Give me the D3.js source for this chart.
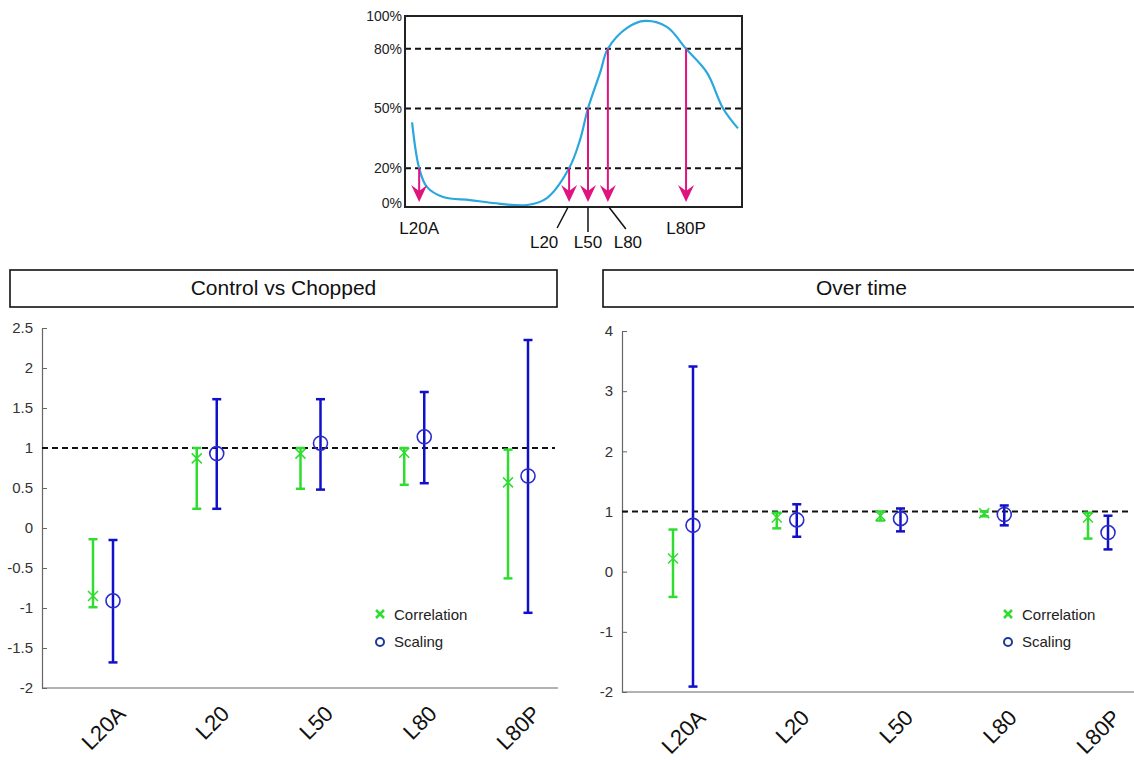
<!DOCTYPE html>
<html>
<head>
<meta charset="utf-8">
<script src="https://cdn.jsdelivr.net/npm/d3@7"></script>
<style>
  body { margin: 0; background: #fff; }
  text { font-family: Arial, "Liberation Sans", sans-serif; }
</style>
</head>
<body>
<svg id="fig" width="1134" height="760"></svg>
<script>
// ---- data ----
var categories = ["L20A", "L20", "L50", "L80", "L80P"];

// Control vs Chopped
var chopCorrMean  = [-0.85, 0.87, 0.93, 0.94, 0.57];
var chopCorrLow   = [-0.99, 0.24, 0.49, 0.54, -0.63];
var chopCorrHigh  = [-0.14, 1.00, 1.00, 1.00, 0.98];
var chopScaleMean = [-0.91, 0.93, 1.06, 1.14, 0.65];
var chopScaleLow  = [-1.68, 0.24, 0.48, 0.56, -1.06];
var chopScaleHigh = [-0.15, 1.61, 1.61, 1.70, 2.35];

// Over time
var timeCorrMean  = [0.22, 0.90, 0.93, 0.97, 0.90];
var timeCorrLow   = [-0.42, 0.72, 0.85, 0.92, 0.55];
var timeCorrHigh  = [0.70, 0.98, 1.00, 1.00, 0.98];
var timeScaleMean = [0.77, 0.86, 0.88, 0.95, 0.65];
var timeScaleLow  = [-1.91, 0.58, 0.67, 0.77, 0.37];
var timeScaleHigh = [3.41, 1.12, 1.05, 1.10, 0.93];

var chopTicks = [-2, -1.5, -1, -0.5, 0, 0.5, 1, 1.5, 2, 2.5];
var timeTicks = [-2, -1, 0, 1, 2, 3, 4];

// schematic profile (x in arbitrary units 0-100, y in %)
var profileX = [2.1, 4.2, 6.5, 11.3, 19.3, 26.1, 36.2, 42.1, 48.7, 51.9, 54.3, 57.9, 60.2, 65.9, 71.2, 77.7, 83.4, 89.6, 94.4, 98.8];
var profileY = [43, 20, 10.6, 5.5, 4.0, 2.5, 1.5, 5.0, 20, 34, 50, 68, 80, 90.5, 94, 91, 80, 68, 50, 40];
var levelTicks = [0, 20, 50, 80, 100];
var levelLines = [20, 50, 80];
var thresholdX = [4.2, 48.7, 54.3, 60.2, 83.4];
var thresholdLevel = [20, 20, 50, 80, 80];

var green = "#2fdc2f", blue = "#1010c8", circleBlue = "#2b2bcc";
var magenta = "#e0147f", curveBlue = "#2aa7dd";

var svg = d3.select("#fig");

// ---- inset schematic ----
var ix = d3.scaleLinear().domain([0, 100]).range([405, 742]);
var iy = d3.scaleLinear().domain([0, 100]).range([208, 9]);
var inset = svg.append("g");

inset.selectAll("line.level").data(levelLines).enter().append("line")
  .attr("x1", 405).attr("x2", 742)
  .attr("y1", d => iy(d)).attr("y2", d => iy(d))
  .attr("stroke", "#111").attr("stroke-width", 2).attr("stroke-dasharray", "6,4");

inset.selectAll("text.lvl").data(levelTicks).enter().append("text")
  .attr("x", 402)
  .attr("y", d => Math.max(16, Math.min(203, iy(d))))
  .attr("dy", "0.35em")
  .attr("text-anchor", "end")
  .style("font-size", "14px").attr("fill", "#222")
  .text(d => d + "%");

var profile = profileX.map((x, i) => [x, profileY[i]]);
inset.append("path")
  .datum(profile)
  .attr("d", d3.line().x(d => ix(d[0])).y(d => iy(d[1])).curve(d3.curveCatmullRom))
  .attr("fill", "none").attr("stroke", curveBlue).attr("stroke-width", 2.2);

var tipY = iy(3);
thresholdX.forEach(function (tx, i) {
  var x = ix(tx);
  inset.append("line")
    .attr("x1", x).attr("x2", x)
    .attr("y1", iy(thresholdLevel[i])).attr("y2", tipY - 8)
    .attr("stroke", magenta).attr("stroke-width", 2);
  inset.append("path")
    .attr("d", "M" + x + "," + tipY + "L" + (x - 8) + "," + (tipY - 17) +
               "L" + x + "," + (tipY - 11) + "L" + (x + 8) + "," + (tipY - 17) + "Z")
    .attr("fill", magenta);
});

inset.append("rect")
  .attr("x", 405).attr("y", 16).attr("width", 337).attr("height", 191)
  .attr("fill", "none").attr("stroke", "#222").attr("stroke-width", 2);

// labels under the schematic
var labelDx = [0, -25, 0, 20, 0];
var labelY  = [234, 248, 248, 248, 234];
categories.forEach(function (c, i) {
  var x = ix(thresholdX[i]);
  inset.append("text")
    .attr("x", x + labelDx[i]).attr("y", labelY[i])
    .attr("text-anchor", "middle")
    .style("font-size", "17px").attr("fill", "#111")
    .text(c);
});
// leader lines for the middle labels
var leaders = [[1, -1, -12, 228], [2, 0, 0, 232], [3, 1, 18, 229]];
leaders.forEach(function (l) {
  var x = ix(thresholdX[l[0]]);
  inset.append("line")
    .attr("x1", x + l[1]).attr("y1", 207)
    .attr("x2", x + l[2]).attr("y2", l[3])
    .attr("stroke", "#111").attr("stroke-width", 1.5);
});

// ---- panels ----
function drawPanel(o) {
  var g = svg.append("g");
  var y = d3.scaleLinear().domain(o.domain).range([o.yBot, o.yTop]);
  var x = d3.scalePoint().domain(categories).range([o.ax + 61, o.ax + 476]);

  // title box
  g.append("rect")
    .attr("x", o.boxX).attr("y", 270).attr("width", o.boxW).attr("height", 37)
    .attr("fill", "#fff").attr("stroke", "#111").attr("stroke-width", 1.6);
  g.append("text")
    .attr("x", o.boxX + o.boxW / 2 - (o.titleShift || 0)).attr("y", 295)
    .attr("text-anchor", "middle")
    .style("font-size", "21px").attr("fill", "#111")
    .text(o.title);

  // y axis
  var yAxis = d3.axisLeft(y).tickValues(o.ticks).tickSize(-5).tickSizeOuter(0)
    .tickPadding(9).tickFormat(d => String(d));
  var ya = g.append("g").attr("transform", "translate(" + o.ax + ",0)").call(yAxis);
  ya.select(".domain").attr("stroke", "#666").attr("stroke-width", 1.2);
  ya.selectAll(".tick line").attr("stroke", "#666");
  ya.selectAll("text").style("font-size", "15px").attr("fill", "#333")
    .style("font-family", "Arial, 'Liberation Sans', sans-serif");

  // bottom axis line
  g.append("line")
    .attr("x1", o.ax).attr("x2", o.axEnd)
    .attr("y1", o.yBot).attr("y2", o.yBot)
    .attr("stroke", "#666").attr("stroke-width", 1.2);

  // x labels
  categories.forEach(function (c) {
    var px = x(c) + 24, py = o.yBot + 27;
    g.append("text")
      .attr("transform", "translate(" + px + "," + py + ") rotate(-45)")
      .attr("text-anchor", "end")
      .style("font-size", "22px").attr("fill", "#111")
      .text(c);
  });

  // reference line at 1
  g.append("line")
    .attr("x1", o.ax).attr("x2", o.axEnd - 3)
    .attr("y1", y(1)).attr("y2", y(1))
    .attr("stroke", "#111").attr("stroke-width", 2).attr("stroke-dasharray", "6,4");

  function errorBars(low, high, dx, color) {
    var eg = g.append("g").attr("stroke", color).attr("stroke-width", 2.5);
    categories.forEach(function (c, i) {
      var cx = x(c) + dx;
      eg.append("line").attr("x1", cx).attr("x2", cx).attr("y1", y(low[i])).attr("y2", y(high[i]));
      eg.append("line").attr("x1", cx - 4.5).attr("x2", cx + 4.5).attr("y1", y(low[i])).attr("y2", y(low[i]));
      eg.append("line").attr("x1", cx - 4.5).attr("x2", cx + 4.5).attr("y1", y(high[i])).attr("y2", y(high[i]));
    });
  }
  errorBars(o.corrLow, o.corrHigh, -10, green);
  errorBars(o.scaleLow, o.scaleHigh, 10, blue);

  // correlation crosses
  categories.forEach(function (c, i) {
    var cx = x(c) - 10, cy = y(o.corrMean[i]), s = 5;
    g.append("path")
      .attr("d", "M" + (cx - s) + "," + (cy - s) + "L" + (cx + s) + "," + (cy + s) +
                 "M" + (cx - s) + "," + (cy + s) + "L" + (cx + s) + "," + (cy - s))
      .attr("stroke", green).attr("stroke-width", 1.5).attr("fill", "none");
  });
  // scaling circles
  g.selectAll("circle.sc").data(o.scaleMean).enter().append("circle")
    .attr("cx", (d, i) => x(categories[i]) + 10)
    .attr("cy", d => y(d))
    .attr("r", 7)
    .attr("fill", "none").attr("stroke", circleBlue).attr("stroke-width", 1.6);

  // legend
  var lx = o.legendX;
  g.append("path")
    .attr("d", "M" + (lx - 4) + ",610L" + (lx + 4) + ",618M" + (lx - 4) + ",618L" + (lx + 4) + ",610")
    .attr("stroke", green).attr("stroke-width", 2.5);
  g.append("text").attr("x", lx + 14).attr("y", 620)
    .style("font-size", "15px").attr("fill", "#222").text("Correlation");
  g.append("circle").attr("cx", lx).attr("cy", 642).attr("r", 4)
    .attr("fill", "none").attr("stroke", "#1d3a96").attr("stroke-width", 2);
  g.append("text").attr("x", lx + 14).attr("y", 647)
    .style("font-size", "15px").attr("fill", "#222").text("Scaling");
}

drawPanel({
  title: "Control vs Chopped", boxX: 10, boxW: 547,
  ax: 42, axEnd: 558, yTop: 328, yBot: 688,
  domain: [-2, 2.5], ticks: chopTicks,
  corrMean: chopCorrMean, corrLow: chopCorrLow, corrHigh: chopCorrHigh,
  scaleMean: chopScaleMean, scaleLow: chopScaleLow, scaleHigh: chopScaleHigh,
  legendX: 380
});

drawPanel({
  title: "Over time", boxX: 603, boxW: 545, titleShift: 14,
  ax: 622, axEnd: 1134, yTop: 331, yBot: 692,
  domain: [-2, 4], ticks: timeTicks,
  corrMean: timeCorrMean, corrLow: timeCorrLow, corrHigh: timeCorrHigh,
  scaleMean: timeScaleMean, scaleLow: timeScaleLow, scaleHigh: timeScaleHigh,
  legendX: 1008
});
</script>
</body>
</html>
